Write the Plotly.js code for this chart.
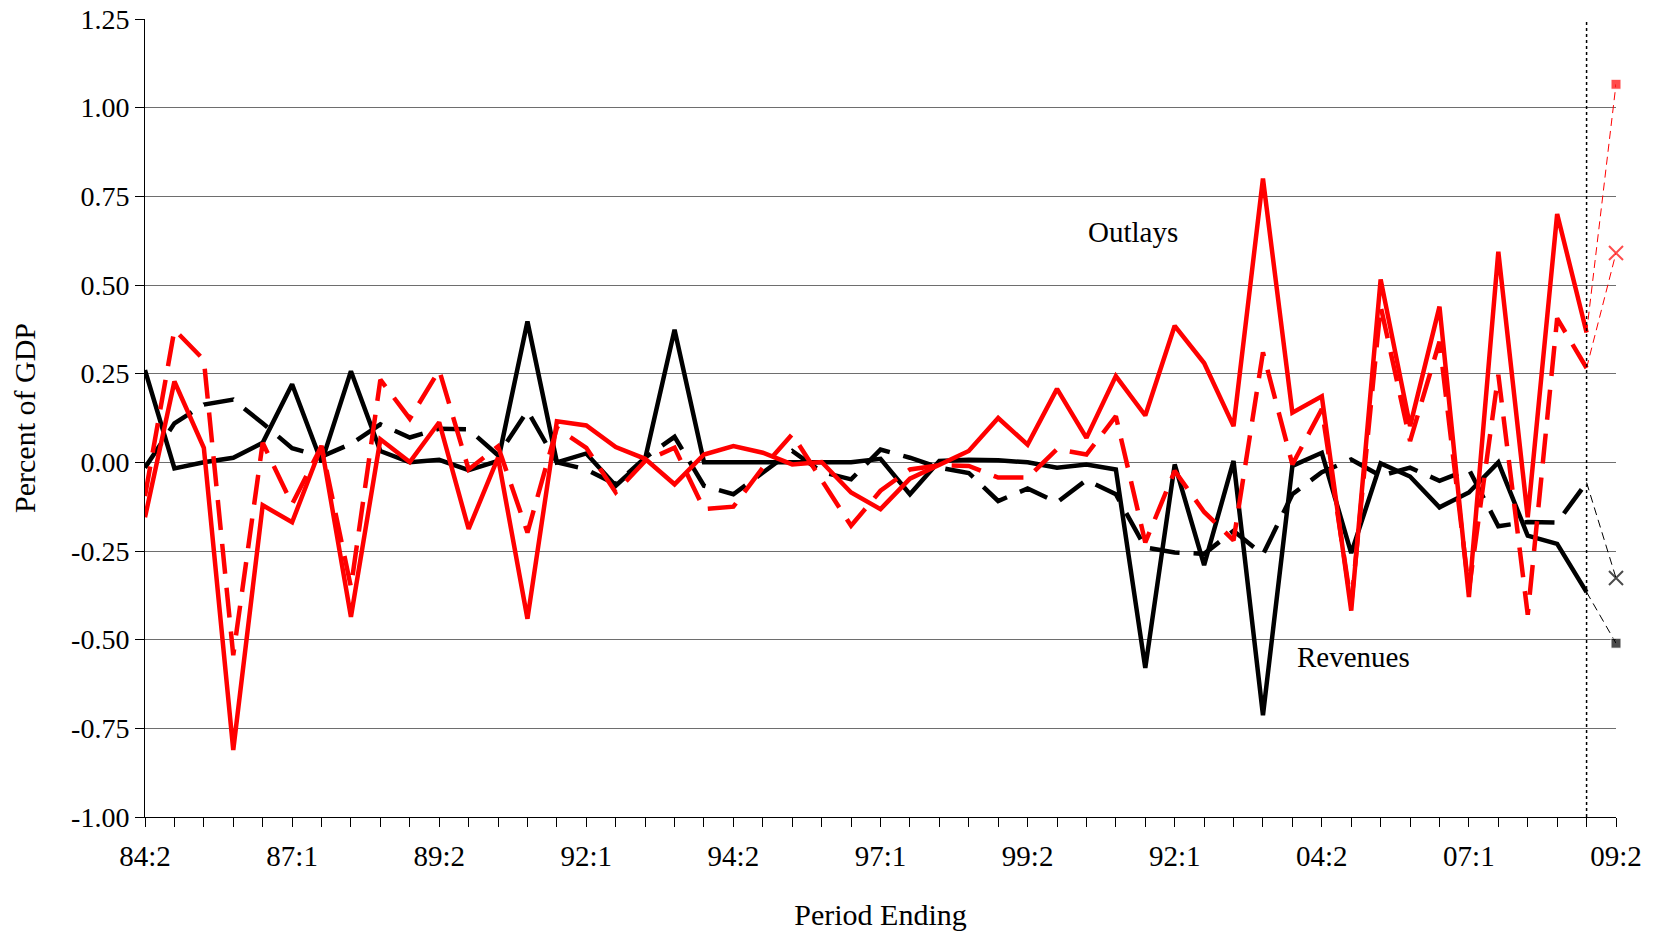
<!DOCTYPE html>
<html>
<head>
<meta charset="utf-8">
<script src="https://cdn.plot.ly/plotly-3.0.1.min.js"></script>
<style>
  html, body { margin: 0; padding: 0; background: #fff; }
  #chart { width: 1659px; height: 937px; }
</style>
</head>
<body>
<div id="chart"></div>
<script>
// Periods (half-years)
const categories = [
  "84:2","85:1","85:2","86:1","86:2","87:1","87:2","88:1","88:2","89:1",
  "89:2","90:1","90:2","91:1","91:2","92:1","92:2","93:1","93:2","94:1",
  "94:2","95:1","95:2","96:1","96:2","97:1","97:2","98:1","98:2","99:1",
  "99:2","00:1","00:2","01:1","01:2","02:1","02:2","03:1","03:2","04:1",
  "04:2","05:1","05:2","06:1","06:2","07:1","07:2","08:1","08:2","09:1",
  "09:2"
];
// Tick labels as printed on the original (every fifth period)
const tickLabels = ["84:2","87:1","89:2","92:1","94:2","97:1","99:2","92:1","04:2","07:1","09:2"];

// Revenues (black) – solid
const revenuesSolid = [
  0.26, -0.017, 0.0, 0.013, 0.055, 0.22, 0.0, 0.257, 0.032, 0.0,
  0.007, -0.022, 0.004, 0.397, 0.0, 0.025, -0.066, 0.01, 0.374, 0.0,
  0.0, 0.0, 0.002, 0.0, 0.0, 0.01, -0.09, 0.004, 0.007, 0.006,
  0.0, -0.015, -0.006, -0.02, -0.58, -0.006, -0.29, 0.004, -0.713, -0.01,
  0.027, -0.256, -0.003, -0.04, -0.127, -0.085, 0.0, -0.207, -0.23, -0.366
];
// Revenues (black) – dashed
const revenuesDashed = [
  -0.015, 0.11, 0.163, 0.177, 0.11, 0.04, 0.016, 0.052, 0.107, 0.07,
  0.095, 0.093, 0.02, 0.145, 0.0, -0.02, -0.062, 0.013, 0.072, -0.066,
  -0.09, -0.03, 0.032, -0.027, -0.048, 0.036, 0.013, -0.015, -0.03, -0.109,
  -0.074, -0.113, -0.05, -0.09, -0.24, -0.254, -0.258, -0.193, -0.26, -0.09,
  -0.028, 0.008, -0.038, -0.015, -0.052, -0.02, -0.18, -0.168, -0.17, -0.057
];
// Outlays (red) – solid
const outlaysSolid = [
  -0.155, 0.228, 0.041, -0.811, -0.121, -0.169, 0.046, -0.436, 0.065, 0.001,
  0.113, -0.188, 0.013, -0.441, 0.116, 0.104, 0.043, 0.01, -0.062, 0.022,
  0.046, 0.027, -0.006, 0.001, -0.085, -0.132, -0.046, -0.006, 0.032, 0.125,
  0.05, 0.207, 0.069, 0.243, 0.132, 0.385, 0.28, 0.102, 0.80, 0.14,
  0.186, -0.418, 0.516, 0.102, 0.439, -0.38, 0.594, -0.155, 0.70, 0.366
];
// Outlays (red) – dashed
const outlaysDashed = [
  -0.095, 0.374, 0.289, -0.544, 0.055, -0.118, 0.046, -0.352, 0.233, 0.123,
  0.26, -0.02, 0.045, -0.198, 0.097, 0.041, -0.085, 0.004, 0.041, -0.132,
  -0.125, -0.015, 0.079, -0.052, -0.179, -0.08, -0.02, -0.008, -0.01, -0.043,
  -0.043, 0.037, 0.022, 0.13, -0.226, -0.024, -0.14, -0.22, 0.31, -0.006,
  0.15, -0.40, 0.44, 0.06, 0.34, -0.36, 0.247, -0.43, 0.406, 0.266
];
// Final-period projections (09:2)
const outlaysProjSquare = 1.066;
const outlaysProjX = 0.59;
const revenuesProjSquare = -0.51;
const revenuesProjX = -0.326;

const yTickVals = [-1, -0.75, -0.5, -0.25, 0, 0.25, 0.5, 0.75, 1, 1.25];
const yTickText = yTickVals.map(v => (v < 0 ? "-" : "") + Math.abs(v).toFixed(2));

const histCats = categories.slice(0, revenuesSolid.length);
const lastCat = histCats[histCats.length - 1];
const projCat = categories[categories.length - 1];
const n = revenuesSolid.length - 1;

const LW = 4.5;
const DASH = "30px,14px";
const THIN_DASH = "8px,5px";
const FONT = "Liberation Serif, Times New Roman, serif";

const traces = [
  { x: histCats, y: revenuesDashed, mode: "lines", line: { color: "#000", width: LW, dash: DASH } },
  { x: histCats, y: revenuesSolid, mode: "lines", line: { color: "#000", width: LW } },
  { x: histCats, y: outlaysDashed, mode: "lines", line: { color: "#ff0000", width: LW, dash: DASH } },
  { x: histCats, y: outlaysSolid, mode: "lines", line: { color: "#ff0000", width: LW } },
  { x: [lastCat, projCat], y: [revenuesSolid[n], revenuesProjSquare], mode: "lines+markers", cliponaxis: false,
    line: { color: "#000", width: 1, dash: THIN_DASH },
    marker: { symbol: "square", size: [0, 10], color: "#000" } },
  { x: [lastCat, projCat], y: [revenuesDashed[n], revenuesProjX], mode: "lines+markers", cliponaxis: false,
    line: { color: "#000", width: 1, dash: THIN_DASH },
    marker: { symbol: "x-thin", size: [0, 14], line: { color: "#000", width: 2 } } },
  { x: [lastCat, projCat], y: [outlaysSolid[n], outlaysProjSquare], mode: "lines+markers", cliponaxis: false,
    line: { color: "#ff0000", width: 1, dash: THIN_DASH },
    marker: { symbol: "square", size: [0, 10], color: "#ff0000" } },
  { x: [lastCat, projCat], y: [outlaysDashed[n], outlaysProjX], mode: "lines+markers", cliponaxis: false,
    line: { color: "#ff0000", width: 1, dash: THIN_DASH },
    marker: { symbol: "x-thin", size: [0, 14], line: { color: "#ff0000", width: 2 } } }
];

const tickText = categories.map((c, i) => (i % 5 === 0 ? tickLabels[i / 5] : ""));

const layout = {
  width: 1659,
  height: 937,
  paper_bgcolor: "#fff",
  plot_bgcolor: "#fff",
  showlegend: false,
  margin: { l: 145, r: 43, t: 19, b: 120 },
  font: { family: FONT, color: "#000", size: 28 },
  xaxis: {
    type: "category",
    categoryorder: "array",
    categoryarray: categories,
    range: [0, categories.length - 1],
    tickmode: "array",
    tickvals: categories,
    ticktext: tickText,
    ticks: "outside",
    ticklen: 9,
    tickwidth: 1,
    tickcolor: "#000",
    ticklabelstandoff: 4,
    showgrid: false,
    showline: true,
    linecolor: "#000",
    linewidth: 1,
    zeroline: false,
    tickfont: { family: FONT, size: 29, color: "#000" },
    title: { text: "Period Ending", font: { family: FONT, size: 30, color: "#000" }, standoff: 33 },
    automargin: false
  },
  yaxis: {
    range: [-1, 1.25],
    tickmode: "array",
    tickvals: yTickVals,
    ticktext: yTickText,
    ticks: "outside",
    ticklen: 9,
    tickwidth: 1,
    tickcolor: "#000",
    showgrid: true,
    gridcolor: "#6e6e6e",
    gridwidth: 1,
    showline: true,
    linecolor: "#000",
    linewidth: 1,
    zeroline: false,
    tickfont: { family: FONT, size: 28, color: "#000" },
    title: { text: "Percent of GDP", font: { family: FONT, size: 30, color: "#000" }, standoff: 26 },
    automargin: false
  },
  shapes: [
    { type: "line", xref: "x", yref: "paper", x0: lastCat, x1: lastCat, y0: 0, y1: 1,
      line: { color: "#000", width: 1.5, dash: "dot" } }
  ],
  annotations: [
    { x: 32.0, y: 0.65, xref: "x", yref: "y", text: "Outlays", showarrow: false,
      xanchor: "left", yanchor: "middle", font: { family: FONT, size: 29, color: "#000" } },
    { x: 39.1, y: -0.55, xref: "x", yref: "y", text: "Revenues", showarrow: false,
      xanchor: "left", yanchor: "middle", font: { family: FONT, size: 29, color: "#000" } }
  ]
};

Plotly.newPlot("chart", traces, layout, { displayModeBar: false, staticPlot: true });
</script>
</body>
</html>
